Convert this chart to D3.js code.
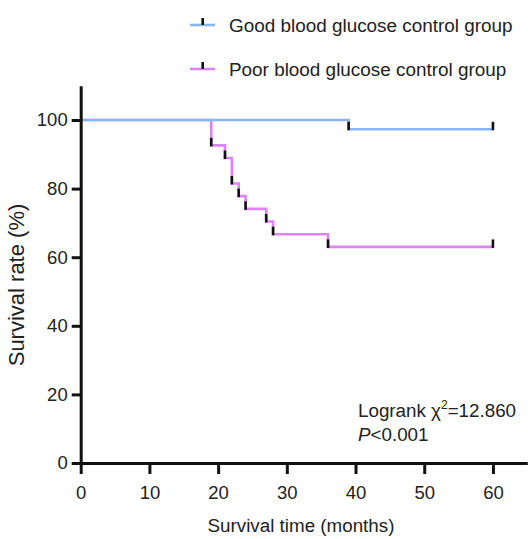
<!DOCTYPE html>
<html>
<head>
<meta charset="utf-8">
<script src="https://cdn.jsdelivr.net/npm/d3@7"></script>
<style>
  body { margin: 0; background: #fff; }
  text { font-family: "Liberation Sans", Arial, sans-serif; fill: #222; }
</style>
</head>
<body>
<svg width="528" height="539"></svg>
<script>
// Kaplan-Meier data
var groupNames = ["Good blood glucose control group", "Poor blood glucose control group"];
var groupColors = ["#88b6f4", "#de84f2"];

var goodTime = [0, 39, 60];
var goodSurv = [100, 97.3, 97.3];
var goodCensor = [39, 60];

var poorTime = [0, 19, 21, 22, 23, 24, 27, 28, 36, 60];
var poorSurv = [100, 92.6, 88.9, 81.5, 77.8, 74.1, 70.4, 66.7, 63.0, 63.0];
var poorCensor = [19, 21, 22, 23, 24, 27, 28, 36, 60];

var xTicks = [0, 10, 20, 30, 40, 50, 60];
var yTicks = [0, 20, 40, 60, 80, 100];

var svg = d3.select('svg');
var fontSize = 18.5;

var scaleX = d3.scaleLinear().domain([0, 65]).range([80.7, 527.3]);
var scaleY = d3.scaleLinear().domain([0, 110]).range([463, 85.7]);

function series(times, surv) {
    return times.map(function(t, i) { return {t: t, s: surv[i]}; });
}
var groups = [
    {data: series(goodTime, goodSurv), censor: goodCensor, times: goodTime, surv: goodSurv},
    {data: series(poorTime, poorSurv), censor: poorCensor, times: poorTime, surv: poorSurv}
];

function survAt(g, t) {
    var s = g.surv[0];
    g.times.forEach(function(tt, i) { if (tt <= t) s = g.surv[i]; });
    return s;
}

var line = d3.line()
    .x(function(d) { return scaleX(d.t); })
    .y(function(d) { return scaleY(d.s); })
    .curve(d3.curveStepAfter);

// draw poor first so the good line sits on top at 100%
[1, 0].forEach(function(i) {
    var g = groups[i];
    svg.append('path')
        .datum(g.data)
        .attr('d', line)
        .attr('fill', 'none')
        .attr('stroke', groupColors[i])
        .attr('stroke-width', 2.6);
});

// censor ticks
[1, 0].forEach(function(i) {
    var g = groups[i];
    svg.append('g').selectAll('line')
        .data(g.censor)
        .join('line')
        .attr('x1', function(d) { return scaleX(d); })
        .attr('x2', function(d) { return scaleX(d); })
        .attr('y1', function(d) { return scaleY(survAt(g, d)) + 1; })
        .attr('y2', function(d) { return scaleY(survAt(g, d)) - 7.5; })
        .attr('stroke', '#111')
        .attr('stroke-width', 2.6);
});

// axes
var yAxis = d3.axisLeft(scaleY).tickValues(yTicks).tickSize(9).tickSizeOuter(0).tickPadding(4);
var xAxis = d3.axisBottom(scaleX).tickValues(xTicks).tickSize(11).tickSizeOuter(0).tickPadding(12);

var yAxisG = svg.append('g')
    .attr('transform', 'translate(' + scaleX(0) + ',0)')
    .call(yAxis);
var xAxisG = svg.append('g')
    .attr('transform', 'translate(0,' + scaleY(0) + ')')
    .call(xAxis);

[yAxisG, xAxisG].forEach(function(a) {
    a.selectAll('.domain').attr('stroke', '#111').attr('stroke-width', 3);
    a.selectAll('.tick line').attr('stroke', '#111').attr('stroke-width', 3);
    a.selectAll('.tick text')
        .attr('font-size', fontSize)
        .attr('font-family', '"Liberation Sans", Arial, sans-serif')
        .attr('fill', '#222');
});

// axis titles
svg.append('text')
    .attr('x', 301)
    .attr('y', 532)
    .attr('text-anchor', 'middle')
    .attr('font-size', 18.8)
    .text('Survival time (months)');

svg.append('text')
    .attr('transform', 'translate(24,285) rotate(-90)')
    .attr('text-anchor', 'middle')
    .attr('font-size', 22)
    .text('Survival rate (%)');

// legend
var legend = svg.append('g');
groupNames.forEach(function(name, i) {
    var ly = 25 + i * 44;
    legend.append('line')
        .attr('x1', 190).attr('x2', 215)
        .attr('y1', ly).attr('y2', ly)
        .attr('stroke', groupColors[i])
        .attr('stroke-width', 2.6);
    legend.append('line')
        .attr('x1', 202.7).attr('x2', 202.7)
        .attr('y1', ly).attr('y2', ly - 7)
        .attr('stroke', '#111')
        .attr('stroke-width', 2.6);
    legend.append('text')
        .attr('x', 229)
        .attr('y', ly + 6.5)
        .attr('font-size', 18.9)
        .text(name);
});

// log-rank annotation
var stat = svg.append('text')
    .attr('x', 358)
    .attr('y', 417)
    .attr('font-size', 18.8);
stat.append('tspan').text('Logrank \u03c7');
stat.append('tspan').attr('dy', -8).attr('font-size', 12).text('2');
stat.append('tspan').attr('dy', 8).text('=12.860');

var pText = svg.append('text')
    .attr('x', 358)
    .attr('y', 441)
    .attr('font-size', 18.8);
pText.append('tspan').attr('font-style', 'italic').text('P');
pText.append('tspan').text('<0.001');
</script>
</body>
</html>
